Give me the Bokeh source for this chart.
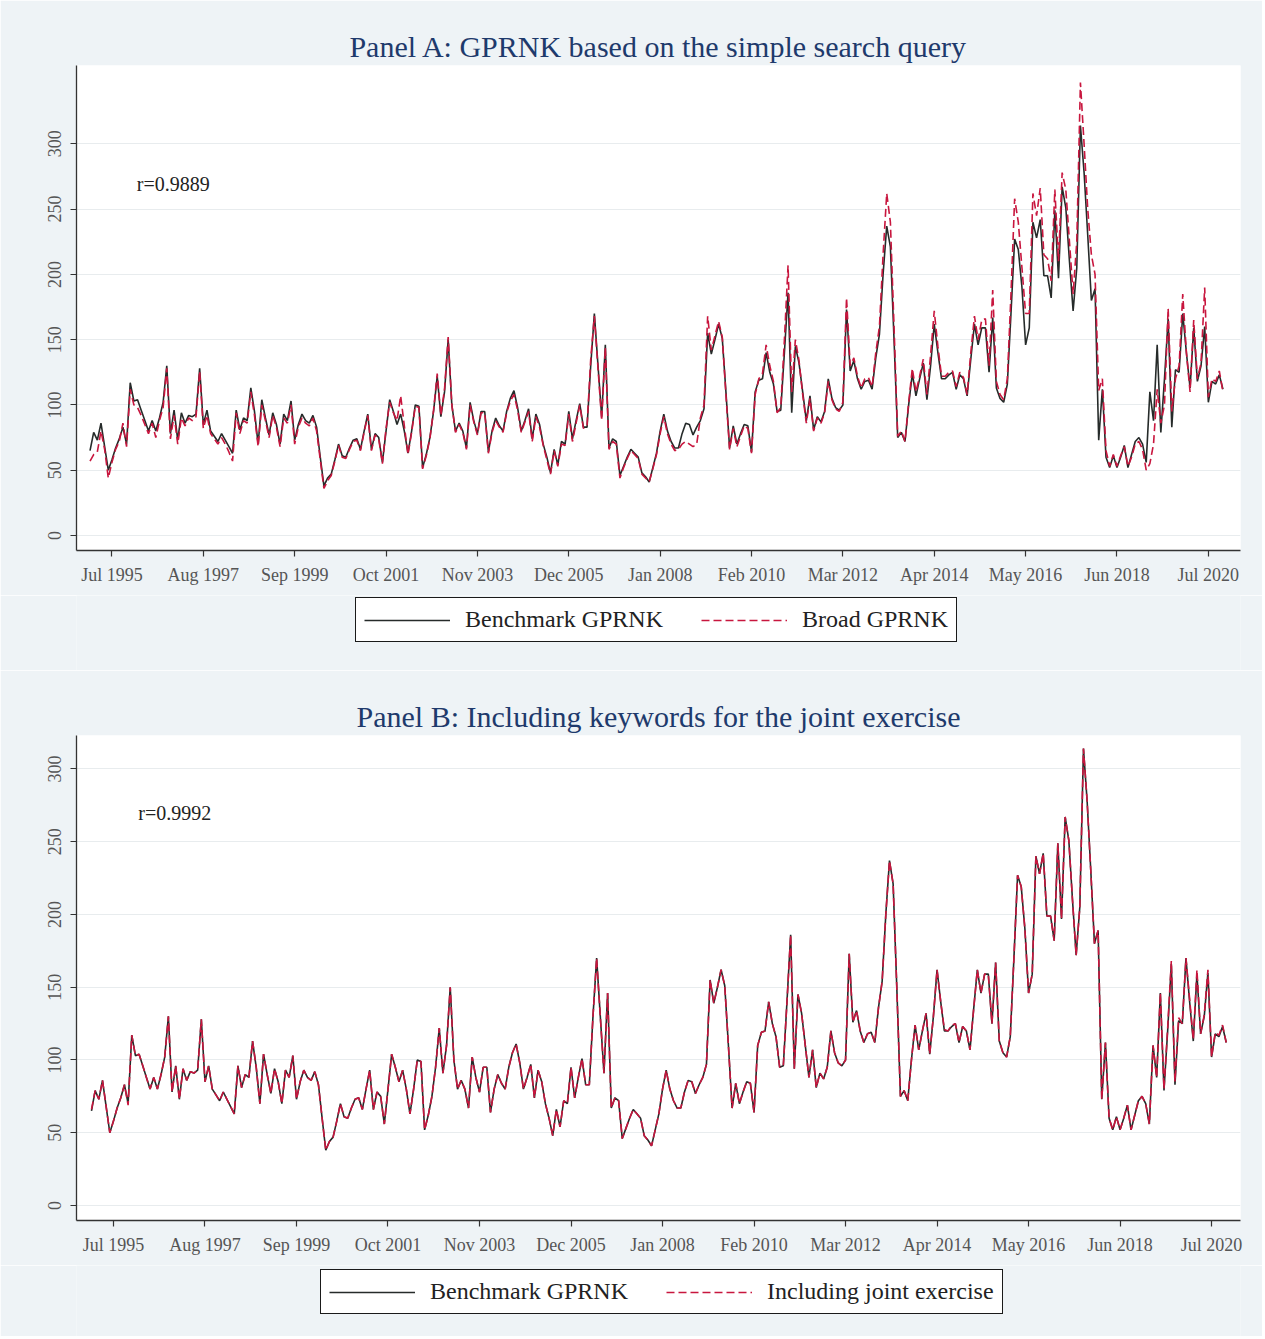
from bokeh.plotting import figure
from bokeh.models import Range1d, FixedTicker, Legend, LegendItem, Label
from bokeh.layouts import column
from bokeh.embed import file_html
from bokeh.resources import INLINE

# ---------------- data (monthly, Jan 1995 onwards) ----------------
START_YEAR = 1995
tick_labels = ["Jul 1995", "Aug 1997", "Sep 1999", "Oct 2001", "Nov 2003", "Dec 2005",
               "Jan 2008", "Feb 2010", "Mar 2012", "Apr 2014", "May 2016", "Jun 2018", "Jul 2020"]
y_ticks = [0, 50, 100, 150, 200, 250, 300]

benchmark = [
    65, 79, 73, 86, 68, 50, 58, 67, 74, 83, 70, 117,
    103, 104, 96, 88, 80, 88, 80, 90, 102, 130, 78, 96,
    73, 94, 86, 92, 91, 93, 128, 85, 96, 80, 76, 72,
    78, 73, 68, 63, 96, 81, 90, 88, 113, 95, 70, 104,
    90, 77, 94, 85, 70, 93, 88, 103, 73, 85, 93, 88,
    86, 92, 83, 60, 38, 44, 47, 58, 70, 61, 60, 67,
    73, 74, 66, 80, 93, 66, 78, 75, 56, 80, 104, 95,
    85, 93, 80, 63, 80, 100, 99, 52, 62, 75, 95, 122,
    91, 110, 150, 100, 80, 86, 80, 67, 102, 88, 78, 95,
    95, 64, 80, 90, 84, 80, 95, 105, 111, 98, 80, 88,
    97, 74, 93, 85, 70, 60, 48, 66, 54, 72, 70, 95,
    74, 88, 101, 83, 83, 130, 170, 130, 91, 146, 67, 74,
    72, 46, 53, 60, 66, 63, 60, 48, 45, 41, 52, 63,
    80, 93, 80, 72, 67, 67, 78, 86, 85, 77, 83, 88,
    97, 155, 139, 150, 162, 151, 110, 67, 84, 70, 78, 85,
    84, 64, 110, 119, 120, 140, 125, 116, 95, 96, 140, 186,
    94, 145, 132, 110, 88, 107, 81, 91, 87, 95, 120, 105,
    98, 96, 100, 173, 126, 134, 120, 112, 118, 119, 112, 136,
    154, 200, 237, 221, 150, 75, 79, 72, 100, 124, 107, 120,
    132, 104, 130, 162, 140, 120, 120, 123, 125, 112, 123, 120,
    107, 135, 162, 146, 159, 159, 125, 167, 113, 105, 102, 116,
    170, 227, 219, 190, 146, 159, 240, 228, 242, 199, 199, 182,
    249, 197, 267, 251, 210, 172, 205, 314, 278, 230, 180, 189,
    73, 112, 60, 52, 61, 52, 60, 69, 52, 62, 72, 75,
    70, 56, 110, 88, 146, 79, 120, 166, 83, 127, 125, 170,
    140, 113, 159, 118, 130, 160, 102, 118, 116, 123, 112,
]

broad = [
    57, 62, 64, 80, 66, 44, 56, 66, 72, 86, 68, 112,
    100, 98, 92, 85, 78, 86, 75, 88, 98, 128, 74, 92,
    70, 90, 84, 90, 88, 91, 126, 82, 92, 78, 74, 70,
    75, 70, 64, 57, 94, 78, 88, 86, 110, 92, 68, 100,
    88, 75, 92, 83, 68, 90, 86, 100, 70, 83, 90, 86,
    84, 90, 80, 58, 36, 42, 46, 57, 69, 60, 59, 66,
    72, 73, 65, 79, 92, 65, 77, 74, 55, 82, 102, 94,
    88, 107, 84, 62, 79, 99, 98, 51, 61, 74, 96, 124,
    92, 112, 152, 100, 79, 85, 79, 66, 100, 87, 77, 94,
    94, 63, 79, 88, 83, 79, 94, 103, 108, 96, 79, 87,
    95, 72, 91, 83, 69, 58, 47, 65, 53, 70, 69, 93,
    72, 86, 100, 82, 84, 135, 168, 128, 88, 144, 66, 72,
    70, 44, 52, 59, 65, 62, 59, 47, 44, 41, 51, 62,
    78, 91, 78, 70, 65, 66, 70, 72, 70, 68, 70, 90,
    100, 168, 142, 153, 164, 152, 108, 66, 82, 68, 76, 84,
    82, 63, 108, 120, 124, 146, 130, 118, 94, 98, 150, 207,
    110, 150, 134, 108, 86, 105, 80, 90, 86, 94, 118, 104,
    97, 95, 102, 182, 130, 136, 122, 113, 120, 121, 114, 140,
    160, 215, 262, 240, 160, 76, 80, 72, 102, 128, 110, 122,
    135, 108, 138, 172, 145, 122, 122, 125, 126, 114, 125, 121,
    108, 140, 168, 150, 165, 166, 130, 188, 118, 108, 104, 120,
    185, 258, 240, 205, 170, 170, 262, 245, 266, 215, 212, 195,
    265, 210, 278, 265, 225, 185, 225, 347, 300, 250, 215, 200,
    111, 120, 65, 53, 62, 53, 61, 68, 53, 60, 70, 72,
    66, 50, 55, 70, 112, 86, 100, 174, 95, 120, 130, 185,
    140, 110, 165, 120, 132, 190, 106, 120, 118, 126, 110,
]

joint = [
    66, 79, 73, 86, 68, 50, 58, 67, 74, 83, 69, 117,
    103, 104, 96, 88, 80, 88, 80, 90, 102, 130, 78, 96,
    73, 94, 86, 92, 91, 93, 128, 85, 96, 80, 76, 72,
    78, 73, 68, 63, 96, 81, 90, 88, 113, 95, 70, 104,
    90, 77, 94, 85, 70, 93, 88, 103, 73, 85, 93, 88,
    86, 92, 83, 60, 38, 44, 47, 58, 70, 61, 60, 67,
    73, 74, 66, 80, 93, 66, 78, 75, 56, 80, 104, 95,
    85, 93, 80, 63, 80, 100, 99, 52, 62, 75, 95, 122,
    91, 110, 150, 100, 80, 86, 80, 67, 102, 88, 78, 95,
    95, 64, 80, 90, 84, 80, 95, 105, 111, 98, 80, 88,
    97, 74, 93, 85, 70, 60, 48, 66, 54, 72, 70, 95,
    74, 88, 101, 83, 83, 130, 170, 130, 91, 146, 67, 74,
    72, 46, 53, 60, 66, 63, 60, 48, 45, 41, 52, 63,
    80, 93, 80, 72, 67, 67, 78, 86, 85, 77, 83, 88,
    97, 155, 139, 150, 162, 151, 110, 67, 84, 70, 78, 85,
    84, 64, 110, 119, 120, 140, 125, 116, 95, 96, 140, 186,
    94, 145, 132, 110, 88, 107, 81, 91, 87, 95, 120, 105,
    98, 96, 100, 173, 126, 134, 120, 112, 118, 119, 112, 136,
    154, 200, 237, 221, 150, 75, 79, 72, 100, 124, 107, 120,
    132, 104, 130, 162, 140, 121, 120, 124, 125, 112, 123, 120,
    107, 135, 162, 146, 159, 159, 125, 167, 113, 105, 102, 116,
    170, 227, 219, 190, 146, 159, 240, 228, 242, 199, 199, 182,
    249, 197, 267, 251, 210, 172, 205, 314, 278, 230, 180, 189,
    73, 112, 60, 52, 61, 52, 60, 69, 52, 62, 72, 75,
    70, 56, 110, 88, 146, 80, 122, 168, 85, 129, 125, 170,
    142, 114, 162, 118, 131, 162, 102, 119, 117, 124, 112,
]

MONTHS = ["Jan", "Feb", "Mar", "Apr", "May", "Jun", "Jul", "Aug", "Sep", "Oct", "Nov", "Dec"]


def month_index(label):
    m, y = label.split()
    return (int(y) - START_YEAR) * 12 + MONTHS.index(m)


tick_pos = [month_index(t) for t in tick_labels]
months = list(range(len(benchmark)))

FONT = "Liberation Serif"
BG = "#EEF3F6"
DARK = "#262B2A"
RED = "#C8163E"
FIG_W = 1262


def make_panel(title, other, r_text, xr, yr, left, right):
    p = figure(width=FIG_W, height=595, output_backend="svg", toolbar_location=None,
               x_range=Range1d(*xr), y_range=Range1d(*yr),
               min_border_top=65, min_border_bottom=45,
               min_border_left=left, min_border_right=right)
    p.border_fill_color = BG
    p.background_fill_color = "white"
    p.outline_line_color = None

    p.title.text = title
    p.title.align = "center"
    p.title.text_font = FONT
    p.title.text_font_size = "30px"
    p.title.text_font_style = "normal"
    p.title.text_color = "#1E3A6C"
    p.title.standoff = 6

    p.line(months, benchmark, line_color=DARK, line_width=1.6)
    p.line(months, other, line_color=RED, line_width=1.6, line_dash="8 4")

    p.xaxis.ticker = FixedTicker(ticks=tick_pos)
    p.xaxis.major_label_overrides = {pos: lab for pos, lab in zip(tick_pos, tick_labels)}
    p.yaxis.ticker = FixedTicker(ticks=y_ticks)
    p.yaxis.major_label_orientation = "vertical"
    for ax in (p.xaxis, p.yaxis):
        ax.axis_line_color = "#333333"
        ax.axis_line_width = 1.3
        ax.major_tick_line_color = "#333333"
        ax.major_tick_line_width = 1.2
        ax.major_tick_out = 6
        ax.major_tick_in = 0
        ax.minor_tick_line_color = None
        ax.major_label_text_font = FONT
        ax.major_label_text_font_size = "18px"
        ax.major_label_text_color = "#555555"
    p.xaxis.major_label_standoff = 8
    p.yaxis.major_label_standoff = 9

    p.xgrid.grid_line_color = None
    p.ygrid.grid_line_color = "#E8ECEE"
    p.ygrid.grid_line_width = 1.2

    p.add_layout(Label(x=12.8, y=269.5, text=r_text, text_font=FONT, text_font_size="20px",
                       text_color="#222222", text_baseline="middle"))
    return p


def make_legend(other, other_name, height, loc, left, right):
    q = figure(width=FIG_W, height=height, output_backend="svg", toolbar_location=None,
               x_range=Range1d(1000, 1001), y_range=Range1d(1000, 1001),
               x_axis_location=None, y_axis_location=None,
               min_border_top=0, min_border_bottom=0,
               min_border_left=left, min_border_right=right)
    q.border_fill_color = BG
    q.background_fill_color = BG
    q.outline_line_color = None
    q.grid.visible = False
    # series drawn far outside this strip's ranges: only their legend glyphs show
    k1 = q.line(months, benchmark, line_color=DARK, line_width=1.6)
    k2 = q.line(months, other, line_color=RED, line_width=1.6, line_dash="8 4")
    legend = Legend(items=[LegendItem(label="Benchmark GPRNK", renderers=[k1]),
                           LegendItem(label=other_name, renderers=[k2])],
                    orientation="horizontal", location=loc)
    legend.border_line_color = "#1A1A1A"
    legend.border_line_width = 1.8
    legend.border_line_alpha = 1.0
    legend.background_fill_color = "white"
    legend.background_fill_alpha = 1.0
    legend.label_text_font = FONT
    legend.label_text_font_size = "24px"
    legend.label_text_color = "#222222"
    legend.glyph_width = 86
    legend.label_standoff = 15
    legend.spacing = 38
    legend.padding = 8
    legend.margin = 0
    q.add_layout(legend, "center")
    return q


pA = make_panel("Panel A: GPRNK based on the simple search query", broad, "r=0.9889",
                (-3.7, 314.8), (-11.5, 360), 76, 22)
lA = make_legend(broad, "Broad GPRNK", 75, (279, 28), 76, 22)
pB = make_panel("Panel B: Including keywords for the joint exercise", joint, "r=0.9992",
                (-4.1, 313.9), (-10.3, 323), 74, 20)
lB = make_legend(joint, "Including joint exercise", 71, (244, 22), 74, 20)

layout = column(pA, lA, pB, lB)
open("out.html", "w").write(file_html(layout, INLINE))
